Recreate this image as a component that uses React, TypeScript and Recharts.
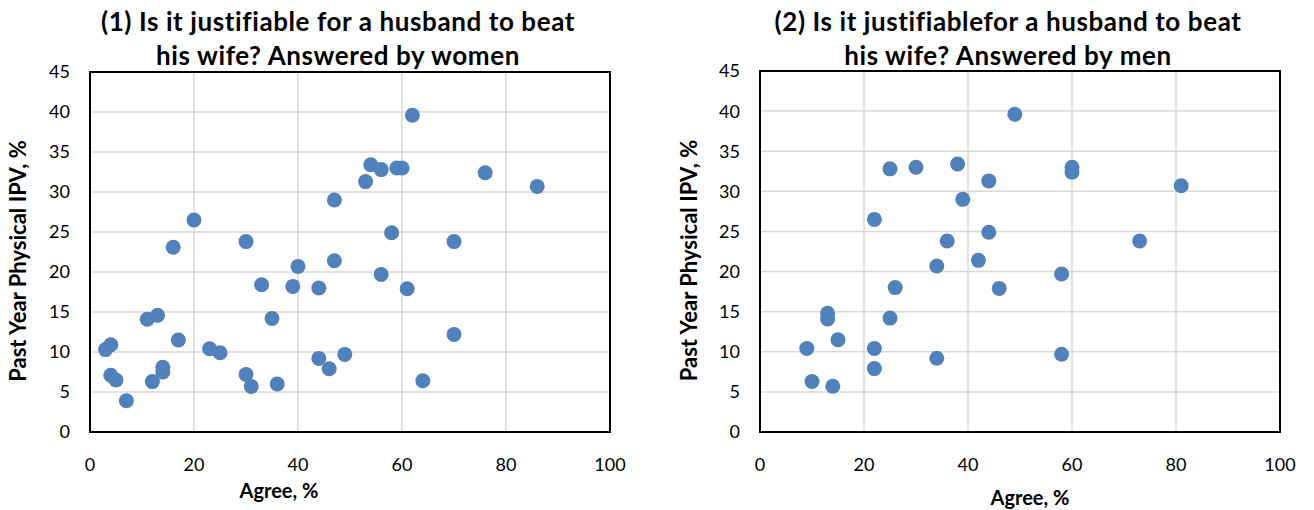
import React from 'react';
import {
  ScatterChart,
  Scatter,
  XAxis,
  YAxis,
  CartesianGrid,
  ReferenceArea,
} from 'recharts';

// panel 1: answered by women
const womenAgree = [
  3, 4, 4, 5, 7, 11, 13, 12, 14, 14, 17, 16, 20, 23, 25, 30, 30, 31, 36, 33, 35, 39,
  40, 44, 44, 46, 49, 47, 47, 53, 54, 56, 59, 60, 62, 76, 86, 58, 70, 56, 61, 70, 64,
];
const womenIPV = [
  10.3, 10.9, 7.1, 6.5, 3.9, 14.1, 14.6, 6.3, 8.1, 7.5, 11.5, 23.1, 26.5, 10.4, 9.9,
  23.8, 7.2, 5.7, 6.0, 18.4, 14.2, 18.2, 20.7, 18.0, 9.2, 7.9, 9.7, 21.4, 29.0, 31.3,
  33.4, 32.8, 33.0, 33.0, 39.6, 32.4, 30.7, 24.9, 23.8, 19.7, 17.9, 12.2, 6.4,
];

// panel 2: answered by men
const menAgree = [
  49, 25, 30, 38, 44, 39, 22, 44, 36, 42, 34, 26, 46, 13, 13, 25, 15, 9, 22, 22, 34,
  10, 14, 60, 60, 81, 73, 58, 58,
];
const menIPV = [
  39.6, 32.8, 33.0, 33.4, 31.3, 29.0, 26.5, 24.9, 23.8, 21.4, 20.7, 18.0, 17.9, 14.8,
  14.1, 14.2, 11.5, 10.4, 10.4, 7.9, 9.2, 6.3, 5.7, 33.0, 32.4, 30.7, 23.8, 19.7, 9.7,
];

const xTicks = [0, 20, 40, 60, 80, 100];
const yTicks = [0, 5, 10, 15, 20, 25, 30, 35, 40, 45];

const FONT = 'Lato, "Open Sans", sans-serif';
const BLUE = '#4F81BD';

const toPoints = (xs: number[], ys: number[]) =>
  xs.map((x, i) => ({ agree: x, ipv: ys[i] }));

const Dot = (props: any) => (
  <circle cx={props.cx} cy={props.cy} r={7.5} fill={BLUE} />
);

interface PanelProps {
  title: string[];
  data: { agree: number; ipv: number }[];
  width: number;
  yAxisWidth: number;
  yLabelX: number;
  xLabelDx: number;
  xLabelY: number;
  top: number;
}

const Panel: React.FC<PanelProps> = ({
  title,
  data,
  width,
  yAxisWidth,
  yLabelX,
  xLabelDx,
  xLabelY,
  top,
}) => {
  const plotLeft = yAxisWidth;
  const plotWidth = 520;
  const titleCenter = plotLeft + plotWidth / 2 - 12;
  return (
    <div style={{ position: 'relative', width, height: 510 }}>
      <div
        style={{
          position: 'absolute',
          left: titleCenter - 300,
          width: 600,
          top: 4,
          textAlign: 'center',
          fontFamily: FONT,
          fontWeight: 700,
          fontSize: 26,
          letterSpacing: 0.6,
          lineHeight: '34px',
          color: '#000',
        }}
      >
        {title.map((t) => (
          <div key={t}>{t}</div>
        ))}
      </div>
      <ScatterChart
        width={width}
        height={510}
        margin={{ top, right: width - plotLeft - plotWidth, bottom: 48, left: 0 }}
      >
        <CartesianGrid stroke="#d9d9d9" strokeWidth={1.5} />
        <XAxis
          type="number"
          dataKey="agree"
          domain={[0, 100]}
          ticks={xTicks}
          height={30}
          axisLine={{ stroke: '#000', strokeWidth: 2 }}
          tickLine={false}
          tickMargin={20}
          tick={{ fill: '#000', fontSize: 18, fontFamily: FONT }}
          label={{
            content: (p: any) => (
              <text
                x={p.viewBox.x + p.viewBox.width / 2 + xLabelDx}
                y={xLabelY}
                textAnchor="middle"
                dominantBaseline="central"
                fontFamily={FONT}
                fontWeight={700}
                fontSize={20}
                fill="#000"
              >
                Agree, %
              </text>
            ),
          }}
        />
        <YAxis
          type="number"
          dataKey="ipv"
          domain={[0, 45]}
          ticks={yTicks}
          width={yAxisWidth}
          axisLine={{ stroke: '#000', strokeWidth: 2 }}
          tickLine={false}
          tickMargin={14}
          tick={{ fill: '#000', fontSize: 18, fontFamily: FONT }}
          label={{
            content: (p: any) => {
              const cy = p.viewBox.y + p.viewBox.height / 2 + 9;
              return (
                <text
                  x={yLabelX}
                  y={cy}
                  transform={`rotate(-90 ${yLabelX} ${cy})`}
                  textAnchor="middle"
                  dominantBaseline="central"
                  fontFamily={FONT}
                  fontWeight={700}
                  fontSize={22}
                  fill="#000"
                >
                  Past Year Physical IPV, %
                </text>
              );
            },
          }}
        />
        <ReferenceArea
          x1={0}
          x2={100}
          y1={0}
          y2={45}
          fill="none"
          stroke="#000"
          strokeWidth={2}
        />
        <Scatter data={data} shape={<Dot />} isAnimationActive={false} />
      </ScatterChart>
    </div>
  );
};

export default function App() {
  return (
    <div
      style={{
        position: 'absolute',
        left: 0,
        top: 0,
        width: 1314,
        height: 510,
        display: 'flex',
        background: '#fff',
      }}
    >
      <Panel
        title={['(1) Is it justifiable for a husband to beat', 'his wife? Answered by women']}
        data={toPoints(womenAgree, womenIPV)}
        width={660}
        yAxisWidth={90}
        yLabelX={17}
        xLabelDx={-71}
        xLabelY={490}
        top={72}
      />
      <Panel
        title={['(2) Is it justifiablefor a husband to beat', 'his wife? Answered by men']}
        data={toPoints(menAgree, menIPV)}
        width={654}
        yAxisWidth={100}
        yLabelX={28}
        xLabelDx={10}
        xLabelY={497}
        top={71}
      />
    </div>
  );
}
